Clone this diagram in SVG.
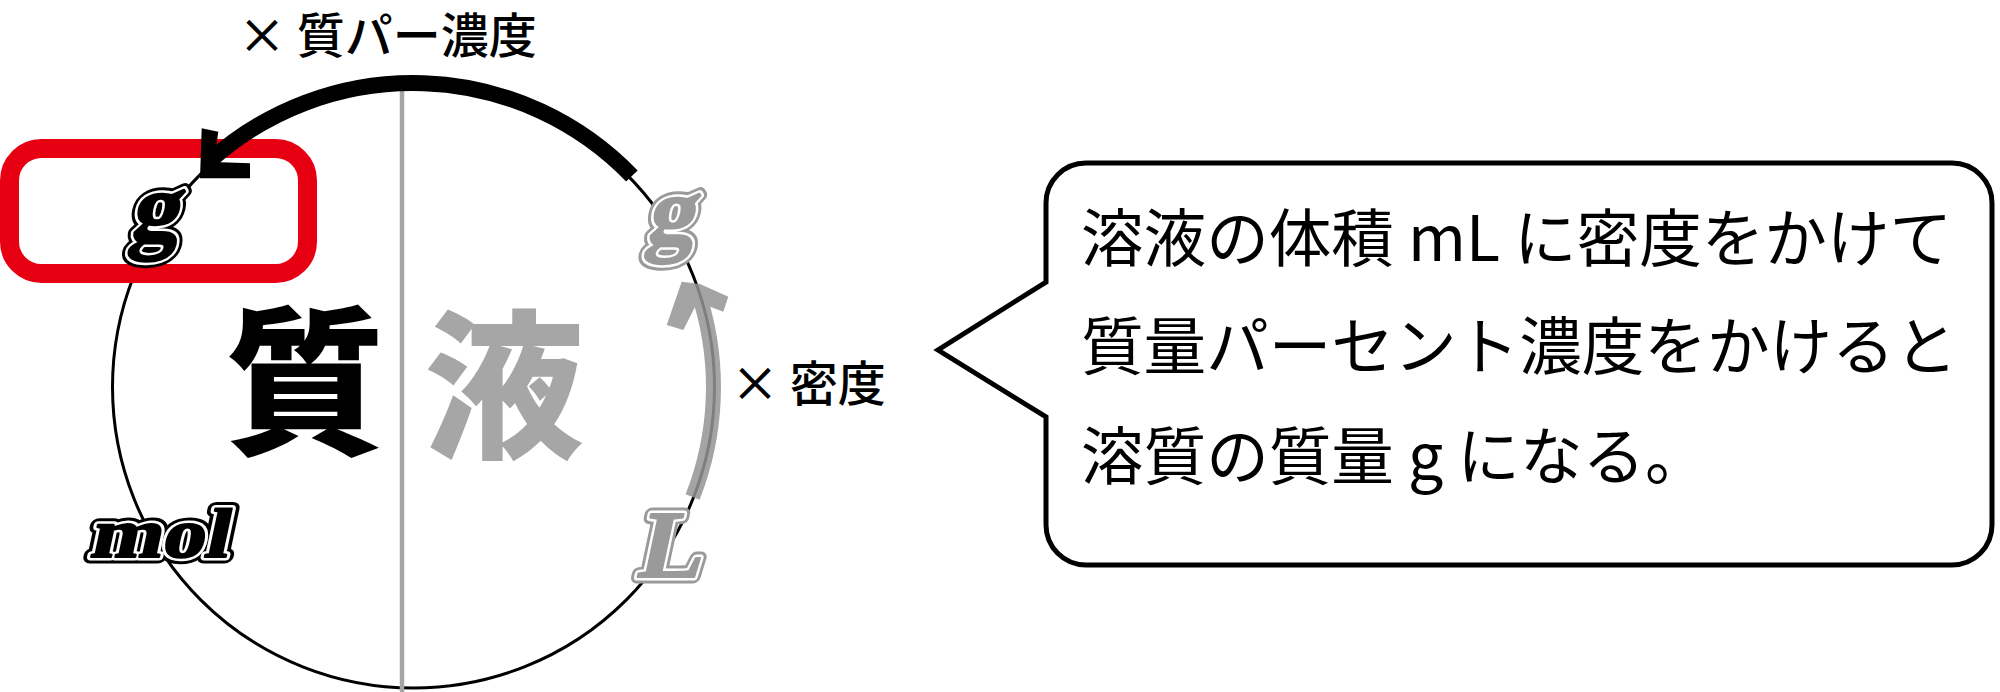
<svg xmlns="http://www.w3.org/2000/svg" width="2000" height="692" viewBox="0 0 2000 692">
<style>
.jp{font-family:"Noto Sans CJK JP","Noto Sans CJK SC",sans-serif;}
.big{font-family:"Noto Sans CJK JP","Noto Sans CJK SC",sans-serif;font-weight:900;font-size:160px;text-anchor:middle;}
.ser{font-family:"Liberation Serif","Times New Roman",serif;font-weight:bold;stroke-linejoin:round;}
.kOut{fill:#000;stroke:#000;stroke-width:13;}
.kMid{fill:#000;stroke:#fff;stroke-width:7;}
.kIn{fill:#000;stroke:#000;stroke-width:2;}
.gOut{fill:#9a9a9a;stroke:#9a9a9a;stroke-width:13;}
.gMid{fill:#9a9a9a;stroke:#fff;stroke-width:7;}
.gIn{fill:#9a9a9a;stroke:#9a9a9a;stroke-width:2;}
</style>
<rect width="2000" height="692" fill="#fff"/>
<g id="circle">
<circle cx="413.5" cy="387" r="301" fill="none" stroke="#000" stroke-width="3"/>
<line x1="402" y1="84" x2="402" y2="692" stroke="#a6a6a6" stroke-width="4.5"/>
</g>
<g id="highlight">
<rect x="9.5" y="148.5" width="298" height="125" rx="32" ry="32" fill="none" stroke="#e60012" stroke-width="19"/>
</g>
<g id="connectors">
<path d="M 631.9 176 A 304 304 0 0 0 210.1 160.6" fill="none" stroke="#000" stroke-width="16"/>
<polygon points="201.7,128.3 218.3,131.7 214,162 250,163.3 250,178.3 200,178.3" fill="#000"/>
<g opacity="0.85">
<path d="M 692.6 497 A 300 300 0 0 0 701.1 301.8" fill="none" stroke="#959595" stroke-width="15"/>
<polygon points="681.7,281.7 700,284 728.3,296.7 723.3,311.7 703,304 697,303 683.3,330 666.7,325" fill="#959595"/>
</g>
</g>
<g id="label-mass-percent">
<text class="jp" x="238" y="53" font-size="48" font-weight="500">× 質パー濃度</text>
</g>
<g id="label-density">
<text class="jp" x="731" y="401" font-size="48" font-weight="500">× 密度</text>
</g>
<g id="node-solute">
<text class="big" x="305" y="442" fill="#000">質</text>
</g>
<g id="node-solution">
<text class="big" x="504" y="446" fill="#a6a6a6">液</text>
</g>
<g id="node-g-solute" transform="translate(153,240) skewX(-12)">
<text class="ser kOut" x="0" y="0" font-size="98" text-anchor="middle">g</text>
<text class="ser kMid" x="0" y="0" font-size="98" text-anchor="middle">g</text>
<text class="ser kIn" x="0" y="0" font-size="98" text-anchor="middle">g</text>
</g>
<g id="node-mol" transform="translate(89,557) skewX(-12)">
<text class="ser kOut" x="0" y="0" font-size="70" textLength="138" lengthAdjust="spacingAndGlyphs">mol</text>
<text class="ser kMid" x="0" y="0" font-size="70" textLength="138" lengthAdjust="spacingAndGlyphs">mol</text>
<text class="ser kIn" x="0" y="0" font-size="70" textLength="138" lengthAdjust="spacingAndGlyphs">mol</text>
</g>
<g id="node-g-solution" transform="translate(669,243) skewX(-12)">
<text class="ser gOut" x="0" y="0" font-size="96" text-anchor="middle">g</text>
<text class="ser gMid" x="0" y="0" font-size="96" text-anchor="middle">g</text>
<text class="ser gIn" x="0" y="0" font-size="96" text-anchor="middle">g</text>
</g>
<g id="node-L" transform="translate(668,577) skewX(-12)">
<text class="ser gOut" x="0" y="0" font-size="96" text-anchor="middle">L</text>
<text class="ser gMid" x="0" y="0" font-size="96" text-anchor="middle">L</text>
<text class="ser gIn" x="0" y="0" font-size="96" text-anchor="middle">L</text>
</g>
<g id="callout">
<path d="M 1086 163 H 1952 A 40 40 0 0 1 1992 203 V 525 A 40 40 0 0 1 1952 565 H 1086 A 40 40 0 0 1 1046 525 V 417 L 938 350 L 1046 282 V 203 A 40 40 0 0 1 1086 163 Z" fill="#fff" stroke="#000" stroke-width="5"/>
<text class="jp" x="1081" y="261" font-size="62.6">溶液の体積 mL に密度をかけて</text>
<text class="jp" x="1081" y="369" font-size="62.6">質量パーセント濃度をかけると</text>
<text class="jp" x="1081" y="479" font-size="62.6">溶質の質量 g になる。</text>
</g>
</svg>
